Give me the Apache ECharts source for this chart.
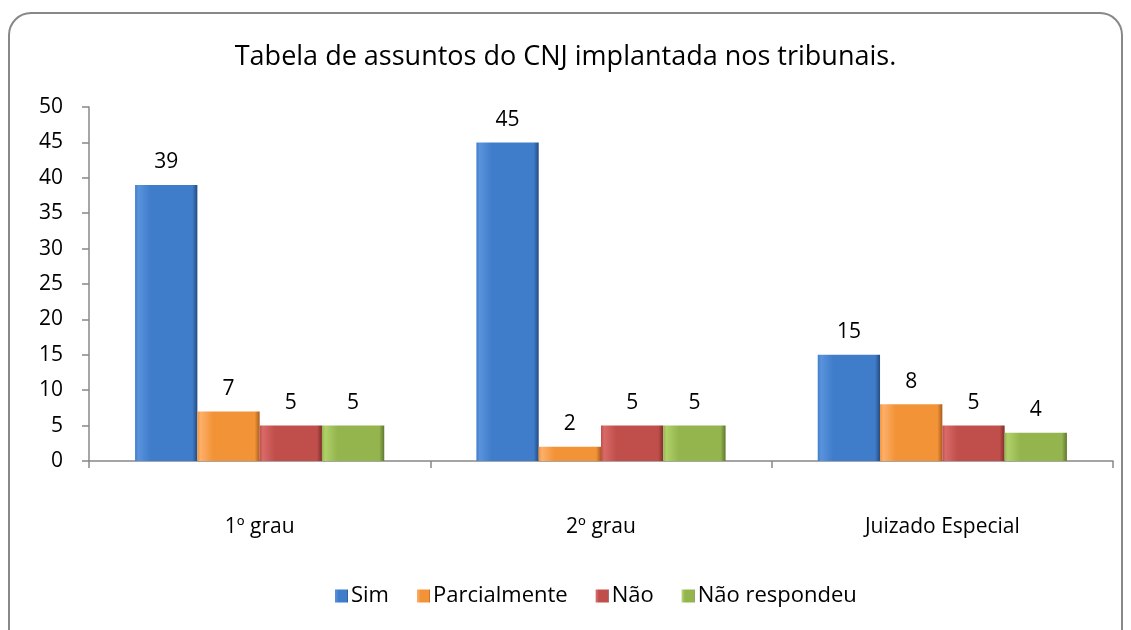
<!DOCTYPE html>
<html>
<head>
<meta charset="utf-8">
<script src="https://cdn.jsdelivr.net/npm/echarts@6/dist/echarts.min.js"></script>
<style>
  html, body { margin: 0; padding: 0; background: #fff; }
  #chart { width: 1131px; height: 630px; }
</style>
</head>
<body>
<div id="chart"></div>
<script>
// dados
const categorias = ['1º grau', '2º grau', 'Juizado Especial'];
const sim = [39, 45, 15];
const parcialmente = [7, 2, 8];
const nao = [5, 5, 5];
const naoRespondeu = [5, 5, 4];
const yTicks = [0, 5, 10, 15, 20, 25, 30, 35, 40, 45, 50];

document.addEventListener('DOMContentLoaded', function() {
    const chart = echarts.init(document.getElementById('chart'));

    // gradiente para imitar o bisel do Excel
    function bevel(light, mid, dark) {
        return new echarts.graphic.LinearGradient(0, 0, 1, 0, [
            { offset: 0, color: mid },
            { offset: 0.05, color: light },
            { offset: 0.25, color: mid },
            { offset: 0.92, color: mid },
            { offset: 1, color: dark }
        ]);
    }

    const fonte = '"Open Sans", Lato, sans-serif';

    function serie(nome, dados, cores) {
        return {
            name: nome,
            type: 'bar',
            data: dados,
            barGap: '0%',
            barCategoryGap: '27%',
            itemStyle: { color: bevel(cores[0], cores[1], cores[2]) },
            label: {
                show: true,
                position: 'top',
                distance: 12,
                color: '#000',
                fontSize: 21,
                fontFamily: fonte
            }
        };
    }

    const option = {
        animation: false,
        backgroundColor: '#fff',
        graphic: [{
            type: 'rect',
            shape: { x: 9, y: 13, width: 1113, height: 640, r: 22 },
            style: { fill: 'none', stroke: '#888', lineWidth: 2 },
            z: -1
        }],
        title: {
            text: 'Tabela de assuntos do CNJ implantada nos tribunais.',
            left: 'center',
            top: 39,
            textStyle: {
                color: '#000',
                fontSize: 27,
                fontWeight: 'normal',
                fontFamily: fonte
            }
        },
        legend: {
            bottom: 18,
            left: 330,
            itemWidth: 13,
            itemHeight: 13,
            itemGap: 28,
            icon: 'rect',
            textStyle: { color: '#000', fontSize: 22, fontFamily: fonte, padding: [0, 0, 0, -2] },
            data: ['Sim', 'Parcialmente', 'Não', 'Não respondeu']
        },
        grid: {
            left: 89,
            right: 18,
            top: 107,
            bottom: 169
        },
        xAxis: {
            type: 'category',
            data: categorias,
            axisLine: { lineStyle: { color: '#888', width: 1.5 } },
            axisTick: { show: true, length: 7, lineStyle: { color: '#888', width: 1.5 } },
            axisLabel: {
                color: '#000',
                fontSize: 21,
                fontFamily: fonte,
                margin: 56
            }
        },
        yAxis: {
            type: 'value',
            min: yTicks[0],
            max: yTicks[yTicks.length - 1],
            interval: 5,
            axisLine: { show: true, lineStyle: { color: '#888', width: 1.5 } },
            axisTick: { show: true, length: 7, lineStyle: { color: '#888', width: 1.5 } },
            splitLine: { show: false },
            axisLabel: {
                color: '#000',
                fontSize: 21,
                fontFamily: fonte,
                margin: 26
            }
        },
        series: [
            serie('Sim', sim, ['#5a93dc', '#3f7cca', '#244a80']),
            serie('Parcialmente', parcialmente, ['#fcb06a', '#f39337', '#a85e1e']),
            serie('Não', nao, ['#d86a67', '#c04e4b', '#7e2e2c']),
            serie('Não respondeu', naoRespondeu, ['#b0d068', '#94b44e', '#5f7730'])
        ]
    };

    chart.setOption(option);

    window.addEventListener('resize', function() {
        chart.resize();
    });
});
</script>
</body>
</html>
